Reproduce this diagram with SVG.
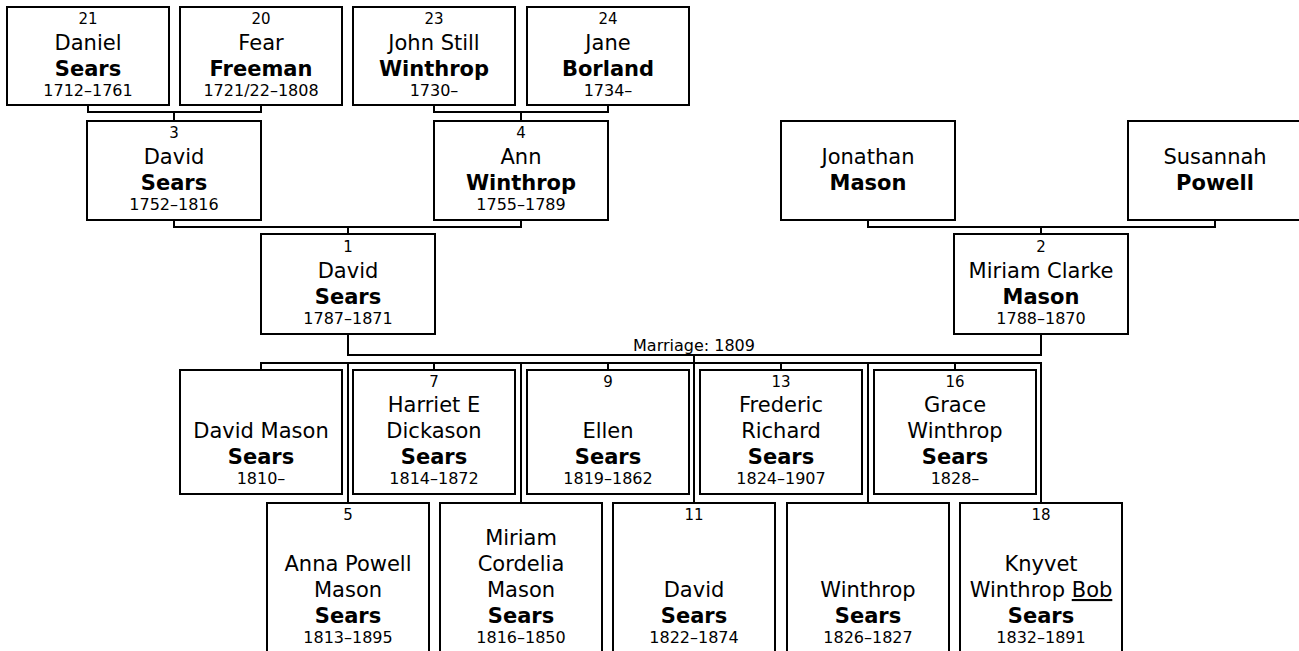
<svg xmlns="http://www.w3.org/2000/svg" width="1299" height="651" viewBox="0 0 1299 651">
<style>
rect.box{fill:#fff;stroke:#000;stroke-width:2}
.conn path{fill:none;stroke:#000;stroke-width:2}
text{font-family:"DejaVu Sans","Noto Sans",sans-serif;fill:#000;text-anchor:middle}
.n{font-size:21px}
.s{font-size:21px;font-weight:bold}
.d{font-size:16px}
.k{font-size:15px}
</style>
<rect width="1299" height="651" fill="#fff"/>
<g id="connectors" class="conn">
<path d="M88 105V112H261V105M174 112V121"/>
<path d="M434 105V112H608V105M521 112V121"/>
<path d="M174 220V227H521V220M348 227V234"/>
<path d="M868 220V227H1215V220M1041 227V234"/>
<path d="M348 334V355H1041V334M694 355V363"/>
<path d="M261 370V363H1041V503"/>
<path d="M434 363V370M608 363V370M781 363V370M955 363V370"/>
<path d="M348 363V503M521 363V503M694 363V503M868 363V503"/>
<text class="d" x="694" y="351">Marriage: 1809</text>
</g>
<g id="p21"><rect class="box" x="7" y="7" width="162" height="98"/><text class="k" x="88" y="24">21</text><text class="n" x="88" y="50">Daniel</text><text class="s" x="88" y="76">Sears</text><text class="d" x="88" y="96">1712–1761</text></g>
<g id="p20"><rect class="box" x="180" y="7" width="162" height="98"/><text class="k" x="261" y="24">20</text><text class="n" x="261" y="50">Fear</text><text class="s" x="261" y="76">Freeman</text><text class="d" x="261" y="96">1721/22–1808</text></g>
<g id="p23"><rect class="box" x="353" y="7" width="162" height="98"/><text class="k" x="434" y="24">23</text><text class="n" x="434" y="50">John Still</text><text class="s" x="434" y="76">Winthrop</text><text class="d" x="434" y="96">1730–</text></g>
<g id="p24"><rect class="box" x="527" y="7" width="162" height="98"/><text class="k" x="608" y="24">24</text><text class="n" x="608" y="50">Jane</text><text class="s" x="608" y="76">Borland</text><text class="d" x="608" y="96">1734–</text></g>
<g id="p3"><rect class="box" x="87" y="121" width="174" height="99"/><text class="k" x="174" y="138">3</text><text class="n" x="174" y="164">David</text><text class="s" x="174" y="190">Sears</text><text class="d" x="174" y="210">1752–1816</text></g>
<g id="p4"><rect class="box" x="434" y="121" width="174" height="99"/><text class="k" x="521" y="138">4</text><text class="n" x="521" y="164">Ann</text><text class="s" x="521" y="190">Winthrop</text><text class="d" x="521" y="210">1755–1789</text></g>
<g id="pJM"><rect class="box" x="781" y="121" width="174" height="99"/><text class="n" x="868" y="164">Jonathan</text><text class="s" x="868" y="190">Mason</text></g>
<g id="pSP"><rect class="box" x="1128" y="121" width="174" height="99"/><text class="n" x="1215" y="164">Susannah</text><text class="s" x="1215" y="190">Powell</text></g>
<g id="p1"><rect class="box" x="261" y="234" width="174" height="100"/><text class="k" x="348" y="252">1</text><text class="n" x="348" y="278">David</text><text class="s" x="348" y="304">Sears</text><text class="d" x="348" y="324">1787–1871</text></g>
<g id="p2"><rect class="box" x="954" y="234" width="174" height="100"/><text class="k" x="1041" y="252">2</text><text class="n" x="1041" y="278">Miriam Clarke</text><text class="s" x="1041" y="304">Mason</text><text class="d" x="1041" y="324">1788–1870</text></g>
<g id="cDM"><rect class="box" x="180" y="370" width="162" height="124"/><text class="n" x="261" y="438">David Mason</text><text class="s" x="261" y="464">Sears</text><text class="d" x="261" y="484">1810–</text></g>
<g id="c7"><rect class="box" x="353" y="370" width="162" height="124"/><text class="k" x="434" y="387">7</text><text class="n" x="434" y="412">Harriet E</text><text class="n" x="434" y="438">Dickason</text><text class="s" x="434" y="464">Sears</text><text class="d" x="434" y="484">1814–1872</text></g>
<g id="c9"><rect class="box" x="527" y="370" width="162" height="124"/><text class="k" x="608" y="387">9</text><text class="n" x="608" y="438">Ellen</text><text class="s" x="608" y="464">Sears</text><text class="d" x="608" y="484">1819–1862</text></g>
<g id="c13"><rect class="box" x="700" y="370" width="162" height="124"/><text class="k" x="781" y="387">13</text><text class="n" x="781" y="412">Frederic</text><text class="n" x="781" y="438">Richard</text><text class="s" x="781" y="464">Sears</text><text class="d" x="781" y="484">1824–1907</text></g>
<g id="c16"><rect class="box" x="874" y="370" width="162" height="124"/><text class="k" x="955" y="387">16</text><text class="n" x="955" y="412">Grace</text><text class="n" x="955" y="438">Winthrop</text><text class="s" x="955" y="464">Sears</text><text class="d" x="955" y="484">1828–</text></g>
<g id="c5"><rect class="box" x="267" y="503" width="162" height="150"/><text class="k" x="348" y="520">5</text><text class="n" x="348" y="571">Anna Powell</text><text class="n" x="348" y="597">Mason</text><text class="s" x="348" y="623">Sears</text><text class="d" x="348" y="643">1813–1895</text></g>
<g id="cMC"><rect class="box" x="440" y="503" width="162" height="150"/><text class="n" x="521" y="545">Miriam</text><text class="n" x="521" y="571">Cordelia</text><text class="n" x="521" y="597">Mason</text><text class="s" x="521" y="623">Sears</text><text class="d" x="521" y="643">1816–1850</text></g>
<g id="c11"><rect class="box" x="613" y="503" width="162" height="150"/><text class="k" x="694" y="520">11</text><text class="n" x="694" y="597">David</text><text class="s" x="694" y="623">Sears</text><text class="d" x="694" y="643">1822–1874</text></g>
<g id="cWS"><rect class="box" x="787" y="503" width="162" height="150"/><text class="n" x="868" y="597">Winthrop</text><text class="s" x="868" y="623">Sears</text><text class="d" x="868" y="643">1826–1827</text></g>
<g id="c18"><rect class="box" x="960" y="503" width="162" height="150"/><text class="k" x="1041" y="520">18</text><text class="n" x="1041" y="571">Knyvet</text><text class="n" x="1041" y="597">Winthrop <tspan text-decoration="underline">Bob</tspan></text><text class="s" x="1041" y="623">Sears</text><text class="d" x="1041" y="643">1832–1891</text></g>
</svg>
